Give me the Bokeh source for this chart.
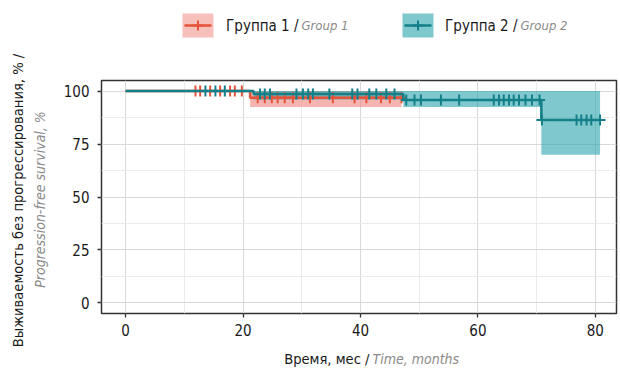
import numpy as np
from math import pi
from bokeh.plotting import figure
from bokeh.layouts import row, column
from bokeh.models import Range1d, FixedTicker, Label
from bokeh.embed import file_html
from bokeh.resources import INLINE

# ---- data ----
g1_time = [0.0, 21.2, 47.0]
g1_surv = [100.0, 96.8, 96.8]
g1_lower = [100.0, 92.5, 92.5]
g1_upper = [100.0, 100.0, 100.0]
g1_censor = [11.9, 12.7, 14.4, 16.1, 17.8, 18.6, 19.8, 22.5, 23.7, 24.9, 25.9,
             27.1, 28.5, 31.4, 35.3, 39.0, 41.0, 43.5, 45.0, 47.0]

g2_time = [0.0, 21.8, 47.3, 70.8, 80.8]
g2_surv = [100.0, 98.6, 95.8, 86.3, 86.3]
g2_lower = [100.0, 96.0, 92.5, 70.0, 70.0]
g2_upper = [100.0, 100.0, 100.0, 100.0, 100.0]
g2_censor = [13.6, 15.3, 16.9, 22.9, 23.7, 24.6, 29.1, 30.2, 31.1, 31.9, 34.7,
             38.6, 39.5, 41.5, 42.7, 44.4, 45.8, 47.8, 49.2, 50.3, 53.7, 56.8,
             62.7, 63.6, 64.4, 65.3, 66.1, 67.0, 68.1, 69.2, 70.5, 70.9, 76.8,
             77.6, 78.5, 79.3, 80.8]

x_ticks = [0, 20, 40, 60, 80]
y_ticks = [0, 25, 50, 75, 100]

group_labels = ["Группа 1 /", "Группа 2 /"]
group_labels_en = ["Group 1", "Group 2"]
x_title = ["Время, мес /", "Time, months"]
y_title = ["Выживаемость без прогрессирования, % /", "Progression-free survival, %"]

FONT = "DejaVu Sans Condensed"
RED = "#E5533A"
RED_FILL = "#F08C84"
TEAL = "#137F88"
TEAL_FILL = "#2AA5AE"
BLACK = "#1a1a1a"
GRAY = "#8a8a8a"


def surv_at(times, surv, t):
    idx = np.searchsorted(np.asarray(times), np.asarray(t), side="right") - 1
    return list(np.asarray(surv)[idx])


W, H = 620, 369
LEFT_W = 50
TOP_H = 78
MAIN_H = 263
BOT_H = H - TOP_H - MAIN_H
FRAME_L, FRAME_R = 101, 616   # canvas x of the main plot frame (strips align to it)


def helper(w, h, x0, x1, y0):
    f = figure(width=w, height=h, output_backend="svg", toolbar_location=None,
               x_range=Range1d(x0, x1), y_range=Range1d(y0 + h, y0),
               x_axis_location=None, y_axis_location=None,
               min_border=0, outline_line_color=None)
    f.grid.visible = False
    f.background_fill_color = "white"
    f.border_fill_color = "white"
    return f


def lab(f, x, y, text, italic=False, align="left", angle=0.0, color=BLACK, size="14px"):
    f.add_layout(Label(x=x, y=y, text=text, text_font=FONT, text_font_size=size,
                       text_font_style="italic" if italic else "normal",
                       text_color=color, text_align=align, text_baseline="middle",
                       angle=angle))


# ---- main chart ----
p = figure(width=W - LEFT_W, height=MAIN_H, output_backend="svg", toolbar_location=None,
           x_range=Range1d(-4.1, 83.6), y_range=Range1d(-5, 105),
           min_border_left=FRAME_L - LEFT_W, min_border_right=W - FRAME_R,
           min_border_top=2, min_border_bottom=28)

p.varea_step(x=g1_time, y1=g1_lower, y2=g1_upper, step_mode="after",
             fill_color=RED_FILL, fill_alpha=0.65)
p.varea_step(x=g2_time, y1=g2_lower, y2=g2_upper, step_mode="after",
             fill_color=TEAL_FILL, fill_alpha=0.6)
p.step(x=g1_time, y=g1_surv, mode="after", line_color=RED, line_width=2.5)
p.scatter(x=g1_censor, y=surv_at(g1_time, g1_surv, g1_censor), marker="cross",
          size=11, line_color=RED, line_width=2)
p.step(x=g2_time, y=g2_surv, mode="after", line_color=TEAL, line_width=2.5)
p.scatter(x=g2_censor, y=surv_at(g2_time, g2_surv, g2_censor), marker="cross",
          size=11, line_color=TEAL, line_width=2)

p.xaxis.ticker = FixedTicker(ticks=x_ticks, minor_ticks=[10, 30, 50, 70])
p.yaxis.ticker = FixedTicker(ticks=y_ticks, minor_ticks=[12.5, 37.5, 62.5, 87.5])
for ax in (p.xaxis[0], p.yaxis[0]):
    ax.axis_line_color = None
    ax.major_tick_line_color = "#333333"
    ax.major_tick_line_width = 1.3
    ax.major_tick_out = 4
    ax.major_tick_in = 0
    ax.minor_tick_line_color = None
    ax.major_label_text_font = FONT
    ax.major_label_text_font_size = "15px"
    ax.major_label_text_color = BLACK
p.xaxis.major_label_standoff = 6
p.yaxis.major_label_standoff = 8

p.xgrid.grid_line_color = "#D9D9D9"
p.ygrid.grid_line_color = "#D9D9D9"
p.xgrid.minor_grid_line_color = "#EBEBEB"
p.ygrid.minor_grid_line_color = "#EBEBEB"
p.outline_line_color = "#333333"
p.outline_line_width = 1.5
p.background_fill_color = "white"
p.border_fill_color = "white"

# ---- top strip: legend (keys drawn as glyphs in pixel space of the strip) ----
top = helper(W - LEFT_W, TOP_H, FRAME_L, FRAME_R, 0)
KEY_W, KEY_Y0, KEY_Y1 = 31, 13, 37
specs = [(RED, RED_FILL, 0.55, 182, 298), (TEAL, TEAL_FILL, 0.6, 402, 517)]
for i, (lc, fc, fa, kx, ax_) in enumerate(specs):
    top.quad(left=[kx], right=[kx + KEY_W], top=[KEY_Y0], bottom=[KEY_Y1],
             fill_color=fc, fill_alpha=fa, line_color=None)
    ym = (KEY_Y0 + KEY_Y1) / 2
    top.segment(x0=[kx + 2], y0=[ym], x1=[kx + KEY_W - 2], y1=[ym],
                line_color=lc, line_width=2.5)
    top.scatter(x=[kx + KEY_W / 2], y=[ym], marker="cross", size=10,
                line_color=lc, line_width=2)
    lab(top, ax_, 25, group_labels[i], align="right", size="15px")
    lab(top, ax_ + 3, 25, group_labels_en[i], italic=True, color=GRAY, size="13px")

# ---- left strip: y title ----
left = helper(LEFT_W, H, 0, LEFT_W, 0)
lab(left, 17, 200, y_title[0], align="center", angle=pi / 2, size="14.6px")
lab(left, 39, 199, y_title[1], italic=True, align="center", angle=pi / 2, color=GRAY)

# ---- bottom strip: x title ----
bot = helper(W - LEFT_W, BOT_H, FRAME_L, FRAME_R, TOP_H + MAIN_H)
lab(bot, 369, 358, x_title[0], align="right", size="14.6px")
lab(bot, 372, 358, x_title[1], italic=True, color=GRAY)

layout = row(left, column(top, p, bot))
open("out.html", "w").write(file_html(layout, INLINE))
